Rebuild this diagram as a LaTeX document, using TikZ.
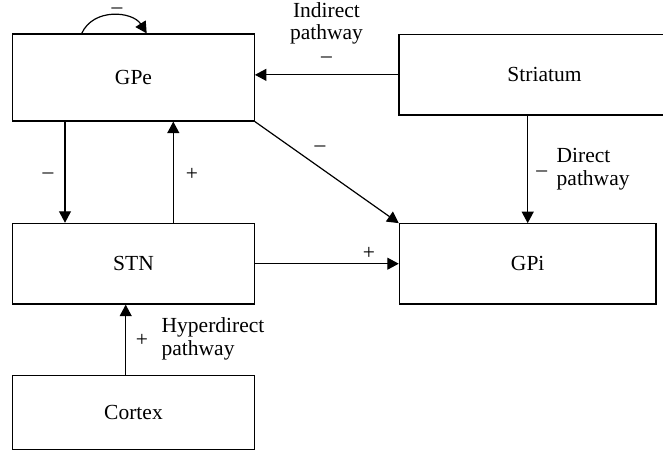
\documentclass[tikz,border=0pt]{standalone}
\usepackage{fontspec}
\setmainfont{Liberation Serif}
\usetikzlibrary{arrows.meta}
\begin{document}
\begin{tikzpicture}[x=1pt,y=-1pt,
  box/.style={draw, line width=1.2pt, inner sep=0pt, font=\fontsize{21.5}{24}\selectfont},
  arr/.style={line width=1.2pt, -{Triangle[length=11.5pt,width=12pt]}},
  lbl/.style={inner sep=0pt, font=\fontsize{21.5}{24}\selectfont},
  ]
\useasboundingbox (0,0) rectangle (663,453);
\node[box, minimum width=241.6pt, minimum height=87pt] (gpe) at (133.5,77.5) {GPe};
\node[box, minimum width=291pt, minimum height=80.3pt] (str) at (544.5,74.85) {Striatum\hspace{39pt}};
\node[box, minimum width=241.6pt, minimum height=80.7pt] (stn) at (133.5,263.7) {STN};
\node[box, minimum width=256.7pt, minimum height=80.3pt] (gpi) at (527.7,263.9) {GPi\hspace{9pt}};
\node[box, minimum width=241.6pt, minimum height=73.6pt] (ctx) at (133.5,412.5) {Cortex};

% self loop on GPe
\draw[arr] ([xshift=-51.8pt]gpe.north) .. controls +(12,-26) and +(-14,-22) .. ([xshift=13.2pt]gpe.north);
\node[lbl] (l1) at (117,10.5) {–};

% Striatum -> GPe (indirect)
\draw[arr] (str.west) -- (str.west -| gpe.east);
\node[lbl, anchor=base] (l2a) at (326.5,17) {Indirect};
\node[lbl, anchor=base] (l2b) at (326.5,39.5) {pathway};
\node[lbl] (l2c) at (326.5,60) {–};

% Striatum -> GPi (direct)
\draw[arr] (gpi.north |- str.south) -- (gpi.north);
\node[lbl] (l3) at (541.7,173.5) {–};
\node[lbl, anchor=base west] (l4a) at (556.5,162) {Direct};
\node[lbl, anchor=base west] (l4b) at (556.5,185) {pathway};

% GPe -> STN, STN -> GPe
\draw[arr] ([xshift=-68.5pt]gpe.south) -- ([xshift=-68.5pt]stn.north);
\node[lbl] (l5) at (48,176) {–};
\draw[arr] ([xshift=39.8pt]stn.north) -- ([xshift=39.8pt]gpe.south);
\node[lbl] (l6) at (192,174) {+};

% GPe -> GPi
\draw[arr] (gpe.south east) -- (gpi.north west);
\node[lbl] (l7) at (320,149) {–};

% STN -> GPi
\draw[arr] (stn.east) -- (stn.east -| gpi.west);
\node[lbl] (l8) at (369,253) {+};

% Cortex -> STN
\draw[arr] ([xshift=-7.8pt]ctx.north) -- ([xshift=-7.8pt]stn.south);
\node[lbl] (l9) at (142,340) {+};
\node[lbl, anchor=base west] (l10a) at (161.5,332.5) {Hyperdirect};
\node[lbl, anchor=base west] (l10b) at (161.5,355.5) {pathway};
\end{tikzpicture}
\end{document}
